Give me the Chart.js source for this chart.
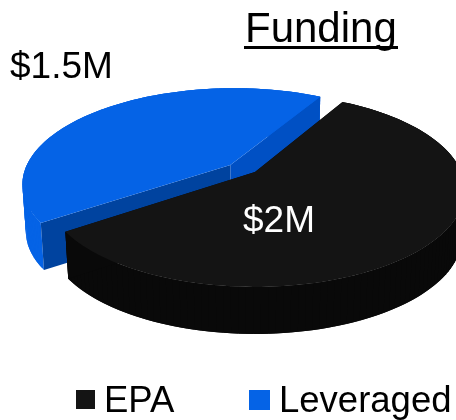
<!DOCTYPE html>
<html>
<head>
<meta charset="utf-8">
<script src="https://cdn.jsdelivr.net/npm/chart.js@4"></script>
<style>
    html, body { margin: 0; padding: 0; background: #fff; }
    #wrap { position: relative; width: 456px; height: 420px; overflow: hidden; }
    #fundingChart { filter: blur(0.4px); }
</style>
</head>
<body>
<div id="wrap"><canvas id="fundingChart" width="456" height="420"></canvas></div>
<script>
const categories = ['EPA', 'Leveraged'];
const fundingValues = [2, 1.5];
const valueLabels = ['$2M', '$1.5M'];
const titleText = 'Funding';

const topColors = ['#141414', '#0563e6'];
const wallColors = ['#090909', '#0563e6'];
const frontCutColors = ['#090909', '#0050c4'];
const rearCutColors = ['#090909', '#00439f'];

const FONT = '"Liberation Sans", Arial, sans-serif';

// Flat pie from Chart.js gets projected onto a tilted disc, like the old 3D pie
const tilt = { scaleX: 1.2, scaleY: 0.544, perspective: 0.186, depth: 47, shrink: 0.985 };
// how far each slice is pulled out of the pie, in pie radii
const pullU = [0, -0.121];
const pullV = [0, -0.075];

function projectPoint(arc, u, v, low) {
    const w = 1 - tilt.perspective * v;
    let x = tilt.scaleX * arc.outerRadius * u / w;
    let y = tilt.scaleY * arc.outerRadius * v / w;
    if (low) {
        x *= tilt.shrink;
        y += tilt.depth;
    }
    return { x: arc.x + x, y: arc.y + y };
}

function fillPoints(ctx, points, color) {
    ctx.beginPath();
    points.forEach((p, i) => {
        if (i === 0) ctx.moveTo(p.x, p.y);
        else ctx.lineTo(p.x, p.y);
    });
    ctx.closePath();
    ctx.fillStyle = color;
    ctx.fill();
}

function rimPoints(arc, index, low) {
    const points = [];
    const steps = 120;
    for (let i = 0; i <= steps; i++) {
        const angle = arc.startAngle + (arc.endAngle - arc.startAngle) * i / steps;
        points.push(projectPoint(arc, pullU[index] + Math.cos(angle), pullV[index] + Math.sin(angle), low));
    }
    return points;
}

function drawSlice(ctx, arc, index) {
    const top = rimPoints(arc, index, false);
    const bottom = rimPoints(arc, index, true);
    const apexTop = projectPoint(arc, pullU[index], pullV[index], false);
    const apexLow = projectPoint(arc, pullU[index], pullV[index], true);

    // wall goes strip by strip, one big polygon cancels itself where the two rims cross
    for (let i = 0; i < top.length - 1; i++) {
        const next = Math.min(i + 2, top.length - 1);
        fillPoints(ctx, [top[i], top[next], bottom[next], bottom[i]], wallColors[index]);
    }
    fillPoints(ctx, [apexTop, top[0], bottom[0], apexLow], rearCutColors[index]);
    fillPoints(ctx, [apexTop, top[top.length - 1], bottom[bottom.length - 1], apexLow], frontCutColors[index]);
    fillPoints(ctx, [apexTop].concat(top), topColors[index]);
}

const pie3dPlugin = {
    id: 'pie3d',
    beforeDatasetDraw(chart, args) {
        const ctx = chart.ctx;
        const arcs = args.meta.data;
        // blue sits behind the black slice
        ctx.save();
        [1, 0].forEach(i => drawSlice(ctx, arcs[i], i));
        ctx.restore();
        return false;
    }
};

const textPlugin = {
    id: 'chartText',
    afterDraw(chart) {
        const ctx = chart.ctx;
        ctx.save();
        ctx.textBaseline = 'alphabetic';
        ctx.textAlign = 'left';

        ctx.fillStyle = '#000';
        ctx.font = '42px ' + FONT;
        ctx.fillText(titleText, 245, 42);
        ctx.fillRect(244, 46, 154, 3);

        ctx.font = '37px ' + FONT;
        ctx.fillText(valueLabels[1], 10, 78);
        ctx.fillStyle = '#fff';
        ctx.fillText(valueLabels[0], 243, 232);

        // legend
        ctx.fillStyle = topColors[0];
        ctx.fillRect(76, 390, 19, 19);
        ctx.fillStyle = topColors[1];
        ctx.fillRect(249, 390, 21, 20);
        ctx.fillStyle = '#000';
        ctx.font = '36.5px ' + FONT;
        ctx.fillText(categories[0], 104, 412);
        ctx.fillText(categories[1], 279, 412);
        ctx.restore();
    }
};

new Chart(document.getElementById('fundingChart'), {
    type: 'pie',
    data: {
        labels: categories,
        datasets: [{
            data: fundingValues,
            backgroundColor: topColors,
            borderWidth: 0
        }]
    },
    options: {
        responsive: false,
        animation: false,
        rotation: 29.5,
        layout: { padding: { left: 54, bottom: 76 } },
        plugins: {
            legend: { display: false },
            tooltip: { enabled: false }
        }
    },
    plugins: [pie3dPlugin, textPlugin]
});
</script>
</body>
</html>
